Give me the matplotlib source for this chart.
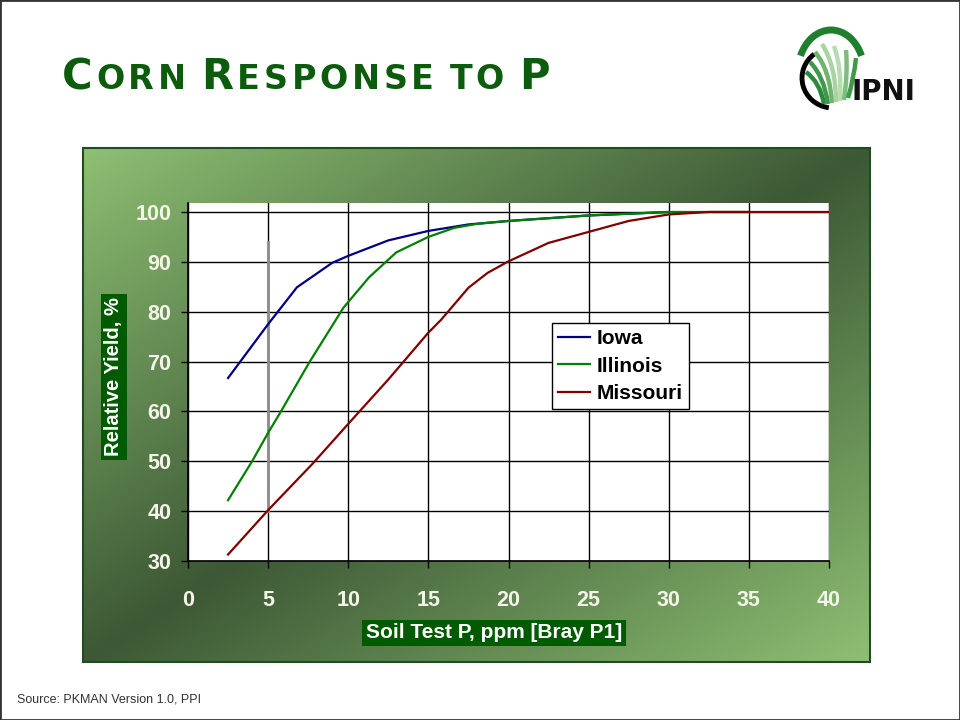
import numpy as np
import matplotlib
matplotlib.use('Agg')
import matplotlib.pyplot as plt
from matplotlib.patches import Arc, Rectangle, PathPatch
from matplotlib.path import Path

x_iowa = [2.5, 5, 6.8, 9, 10, 12.5, 15, 17.5, 20, 25, 30]
y_iowa = [66.7, 77.5, 84.9, 89.8, 91.2, 94.3, 96.2, 97.5, 98.2, 99.3, 100]

x_illinois = [2.5, 4, 5, 5.8, 7.6, 9.7, 11.3, 13, 15, 16.6, 18, 20, 25, 30, 35]
y_illinois = [42.2, 50, 55.7, 60, 70, 80.8, 86.9, 91.9, 95, 96.8, 97.6, 98.2, 99.3, 100, 100]

x_missouri = [2.5, 5, 7.8, 10, 12.5, 15, 15.8, 17.5, 18.7, 20, 22.5, 25, 27.5, 30, 32.5, 35, 40]
y_missouri = [31.3, 40.2, 49.6, 57.5, 66.4, 75.8, 78.4, 84.8, 87.8, 90.1, 93.8, 96, 98.2, 99.5, 100, 100, 100]

series_names = ['Iowa', 'Illinois', 'Missouri']
series_colors = ['#000080', '#008000', '#800000']

x_ticks = [0, 5, 10, 15, 20, 25, 30, 35, 40]
y_ticks = [30, 40, 50, 60, 70, 80, 90, 100]

# grey marker line seen at 5 ppm
crit_x = 5
crit_y = [40, 94]

W, H = 960, 720


def fx(px):
    return px / W


def fy(py):
    return 1 - py / H


def draw_title(fig, text, x0, x1, base):
    r = fig.canvas.get_renderer()
    parts = []
    for word in text.split(' '):
        for ch in word:
            parts.append((ch.upper(), 30 if ch.isupper() else 24))
        parts.append((' ', 24))
    parts = parts[:-1]
    widths = []
    for ch, size in parts:
        if ch == ' ':
            widths.append(8)
            continue
        t = fig.text(0, 0, ch, fontsize=size, fontweight='heavy', family='DejaVu Sans')
        widths.append(t.get_window_extent(renderer=r).width)
        t.remove()
    gap = (x1 - x0 - sum(widths)) / (len(parts) - 1)
    x = x0
    for (ch, size), w in zip(parts, widths):
        if ch != ' ':
            fig.text(fx(x), fy(base), ch, fontsize=size, fontweight='heavy',
                     family='DejaVu Sans', color='#0d5c0d', va='baseline', ha='left')
        x += w + gap


def draw_logo(fig):
    lax = fig.add_axes([0, 0, 1, 1], zorder=5)
    lax.set_xlim(0, W)
    lax.set_ylim(0, H)
    lax.axis('off')
    lax.patch.set_alpha(0)
    cx, cy = 831, H - 72
    lax.add_patch(Arc((cx, cy), 66, 84, theta1=28, theta2=152, lw=5, color='#1f7f2c'))
    lax.add_patch(Arc((cx + 2, cy - 6), 62, 60, theta1=128, theta2=262, lw=3.5, color='black'))
    blades = [
        ((824, 104), (820, 82), (806, 72), '#2a8a3a'),
        ((828, 104), (824, 76), (810, 62), '#3e9a48'),
        ((832, 103), (830, 70), (815, 52), '#6fb36f'),
        ((836, 102), (836, 66), (822, 44), '#a9d3a3'),
        ((840, 101), (842, 68), (834, 46), '#b8dcb2'),
        ((844, 100), (848, 72), (846, 50), '#7cbc7c'),
        ((848, 98), (854, 78), (856, 58), '#3e9a48'),
    ]
    for p0, p1, p2, c in blades:
        verts = [(p0[0], H - p0[1]), (p1[0], H - p1[1]), (p2[0], H - p2[1])]
        path = Path(verts, [Path.MOVETO, Path.CURVE3, Path.CURVE3])
        lax.add_patch(PathPatch(path, fill=False, ec=c, lw=3.2, capstyle='butt'))
    lax.text(851, H - 100, 'IPNI', fontsize=20, fontweight='bold', family='DejaVu Sans',
             color='#111111', va='baseline', ha='left')


fig = plt.figure(figsize=(9.6, 7.2), dpi=100)
fig.patch.set_facecolor('white')

# gradient panel behind the chart
pax = fig.add_axes([fx(83), fy(662), fx(787), 514 / H], zorder=0)
xx, yy = np.meshgrid(np.linspace(0, 1, 400), np.linspace(0, 1, 260))
t = np.abs(xx + yy - 1)
light = np.array([0x8e, 0xc0, 0x73]) / 255
dark = np.array([0x3c, 0x58, 0x35]) / 255
img = dark + t[..., None] * (light - dark)
pax.imshow(img, aspect='auto', extent=[0, 1, 0, 1], origin='upper')
pax.set_xticks([])
pax.set_yticks([])
for s in pax.spines.values():
    s.set_color('#1f4d1f')
    s.set_linewidth(1.5)

ax = fig.add_axes([fx(188), fy(561), fx(829 - 188), (561 - 203) / H], zorder=2)
ax.set_facecolor('white')
ax.set_xlim(0, 40)
ax.set_ylim(30, 101.8)
ax.set_xticks(x_ticks)
ax.set_yticks(y_ticks)
ax.grid(True, color='black', lw=1)
ax.set_axisbelow(True)
for side in ['top', 'right']:
    ax.spines[side].set_visible(False)
for side in ['left', 'bottom']:
    ax.spines[side].set_color('black')
    ax.spines[side].set_linewidth(1.2)
ax.tick_params(axis='both', direction='out', length=5, width=1, colors='black',
               labelcolor='#f4f4e8', labelsize=15.5)
ax.tick_params(axis='y', pad=7)
ax.tick_params(axis='x', pad=16)
for lab in ax.get_xticklabels() + ax.get_yticklabels():
    lab.set_fontweight('bold')
    lab.set_family('Liberation Sans')

ax.plot([crit_x, crit_x], crit_y, color='#8c8c8c', lw=2, zorder=2.5)

xs = [x_iowa, x_illinois, x_missouri]
ys = [y_iowa, y_illinois, y_missouri]
for x, y, name, c in zip(xs, ys, series_names, series_colors):
    ax.plot(x, y, color=c, lw=1.6, label=name, zorder=3)

leg = ax.legend(loc='upper left', bbox_to_anchor=(fx(552), fy(323)), bbox_transform=fig.transFigure,
                frameon=True, fancybox=False, edgecolor='black', framealpha=1,
                prop={'family': 'Liberation Sans', 'weight': 'bold', 'size': 15},
                handlelength=1.5, handletextpad=0.35, borderpad=0.3, labelspacing=0.4,
                borderaxespad=0)
leg.get_frame().set_linewidth(1)

fig.text(fx(114), fy(377), 'Relative Yield, %', rotation=90, ha='center', va='center',
         fontsize=14.5, fontweight='bold', family='Liberation Sans', color='white',
         bbox=dict(facecolor='#005a00', edgecolor='none', pad=2.5), zorder=4)
fig.text(fx(494), fy(633), 'Soil Test P, ppm [Bray P1]', ha='center', va='center',
         fontsize=15, fontweight='bold', family='Liberation Sans', color='white',
         bbox=dict(facecolor='#005a00', edgecolor='none', pad=2.5), zorder=4)

draw_title(fig, 'Corn Response to P', 62, 550, 89)
draw_logo(fig)

fig.text(fx(17), fy(702), 'Source: PKMAN Version 1.0, PPI', fontsize=9,
         family='Liberation Sans', color='#333333', va='baseline', ha='left')

fig.patches.append(Rectangle((0, 0), 1, 1, transform=fig.transFigure, fill=False,
                             ec='#333333', lw=2))

fig.savefig('out.png', dpi=100)
